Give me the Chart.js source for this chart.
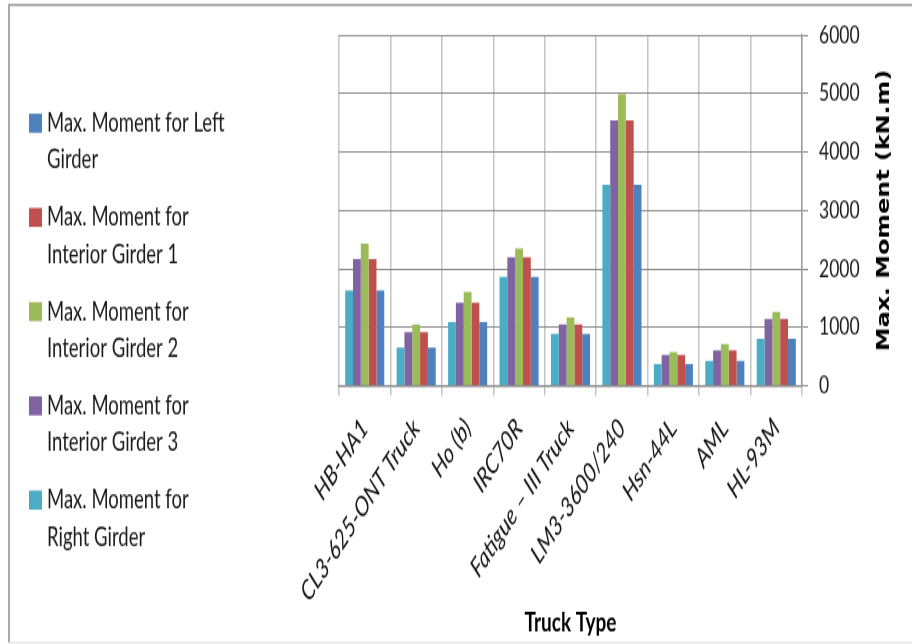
<!DOCTYPE html>
<html>
<head>
<meta charset="utf-8">
<script src="https://cdn.jsdelivr.net/npm/chart.js@4/dist/chart.umd.min.js"></script>
<style>
  html, body { margin: 0; padding: 0; background: #fff; overflow: hidden; }
  #wrap { width: 912px; height: 644px; }
  canvas { display: block; }
</style>
</head>
<body>
<div id="wrap"><canvas id="c" width="912" height="460" style="width:912px;height:644px"></canvas></div>
<script>
// Truck types along the x axis
const truckTypes = ['HB-HA1', 'CL3-625-ONT Truck', 'Ho (b)', 'IRC70R', 'Fatigue \u2013 III Truck',
                    'LM3-3600/240', 'Hsn-44L', 'AML', 'HL-93M'];

// Maximum moment per girder (kN.m)
const leftGirder      = [1630, 650, 1090, 1865, 885, 3435, 370, 425, 805];
const interiorGirder1 = [2170, 915, 1420, 2195, 1045, 4540, 525, 605, 1145];
const interiorGirder2 = [2430, 1045, 1605, 2350, 1165, 4990, 575, 710, 1265];
const interiorGirder3 = [2170, 915, 1420, 2195, 1045, 4540, 525, 605, 1145];
const rightGirder     = [1630, 650, 1090, 1865, 885, 3435, 370, 425, 805];

// Value axis ticks
const yTicks = [0, 1000, 2000, 3000, 4000, 5000, 6000];

const seriesNames = ['Max. Moment for Left Girder', 'Max. Moment for Interior Girder 1',
                     'Max. Moment for Interior Girder 2', 'Max. Moment for Interior Girder 3',
                     'Max. Moment for Right Girder'];
const seriesColors = ['#4F81BD', '#C0504D', '#9BBB59', '#8064A2', '#4BACC6'];
const seriesData = [leftGirder, interiorGirder1, interiorGirder2, interiorGirder3, rightGirder];

const xTitle = 'Truck Type';
const yTitle = 'Max. Moment (kN.m)';

const FONT = "Lato, 'Open Sans', sans-serif";

// Bars sit right-girder first inside each group; the legend lists left girder first.
const datasets = [];
for (let i = seriesNames.length - 1; i >= 0; i--) {
  datasets.push({
    label: seriesNames[i],
    data: seriesData[i],
    backgroundColor: seriesColors[i],
    borderWidth: 0,
    barPercentage: 1.0,
    categoryPercentage: 0.76
  });
}

function wrapWords(ctx, text, maxW) {
  const words = text.split(' ');
  const lines = [];
  let cur = '';
  for (const w of words) {
    const t = cur ? cur + ' ' + w : w;
    if (cur && ctx.measureText(t).width > maxW) { lines.push(cur); cur = w; }
    else cur = t;
  }
  if (cur) lines.push(cur);
  return lines;
}

const decorPlugin = {
  id: 'decor',
  beforeDraw(chart) {
    const ctx = chart.ctx;
    ctx.save();
    ctx.fillStyle = '#fff';
    ctx.fillRect(0, 0, chart.width, chart.height);
    // outer frame
    ctx.strokeStyle = '#8f8f8f';
    ctx.lineWidth = 1.5;
    ctx.beginPath();
    ctx.moveTo(9, 459); ctx.lineTo(9, 3.6); ctx.lineTo(912, 3.6);
    ctx.stroke();
    ctx.strokeStyle = '#dddddd';
    ctx.lineWidth = 1.2;
    ctx.beginPath();
    ctx.moveTo(9, 459); ctx.lineTo(912, 459);
    ctx.stroke();
    ctx.restore();
  },
  afterDraw(chart) {
    const ctx = chart.ctx;
    const area = chart.chartArea;
    ctx.save();
    // legend, left girder first
    ctx.font = '18.5px ' + FONT;
    ctx.textBaseline = 'middle';
    ctx.textAlign = 'left';
    const n = chart.data.datasets.length;
    for (let k = 0; k < n; k++) {
      const ds = chart.data.datasets[n - 1 - k];
      const y0 = 88 + k * 67.3;
      ctx.fillStyle = ds.backgroundColor;
      ctx.fillRect(29, y0 - 6.8, 13, 13.6);
      ctx.fillStyle = '#1a1a1a';
      const lines = wrapWords(ctx, ds.label, 183);
      lines.forEach((ln, j) => ctx.fillText(ln, 47, y0 + j * 26.4));
    }
    // axis titles
    ctx.fillStyle = '#000';
    ctx.font = "bold 17px 'DejaVu Sans', sans-serif";
    ctx.textAlign = 'center';
    ctx.translate(885, (area.top + area.bottom) / 2);
    ctx.rotate(-Math.PI / 2);
    ctx.fillText(yTitle, 0, 0);
    ctx.setTransform(1, 0, 0, 1, 0, 0);
    ctx.font = 'bold 19px ' + FONT;
    ctx.fillText(xTitle, (area.left + area.right) / 2, 444.5);
    ctx.restore();
  }
};

new Chart(document.getElementById('c'), {
  type: 'bar',
  data: { labels: truckTypes, datasets },
  plugins: [decorPlugin],
  options: {
    responsive: false,
    animation: false,
    devicePixelRatio: 1,
    layout: { padding: { left: 339, top: 25, right: 0, bottom: 0 } },
    plugins: { legend: { display: false }, tooltip: { enabled: false } },
    scales: {
      x: {
        grid: { color: '#c4c4c4', lineWidth: 1.5, tickLength: 7, offset: true },
        border: { color: '#8c8c8c', width: 1.4 },
        ticks: {
          color: '#141414',
          font: { family: FONT, size: 19.5, style: 'italic' },
          minRotation: 48, maxRotation: 48, padding: 12, autoSkip: false
        },
        afterFit(scale) { scale.height = 460 - 275.5; }
      },
      y: {
        position: 'right',
        min: 0, max: 6000,
        afterBuildTicks(scale) { scale.ticks = yTicks.map(v => ({ value: v })); },
        grid: { color: '#8c8c8c', lineWidth: 1, tickLength: 6 },
        border: { color: '#9a9a9a', width: 1.4 },
        ticks: {
          color: '#1a1a1a',
          font: { family: FONT, size: 17.5 },
          padding: 11,
          callback: (v) => String(v)
        },
        afterFit(scale) { scale.width = 912 - 802; }
      }
    }
  }
});
</script>
</body>
</html>
